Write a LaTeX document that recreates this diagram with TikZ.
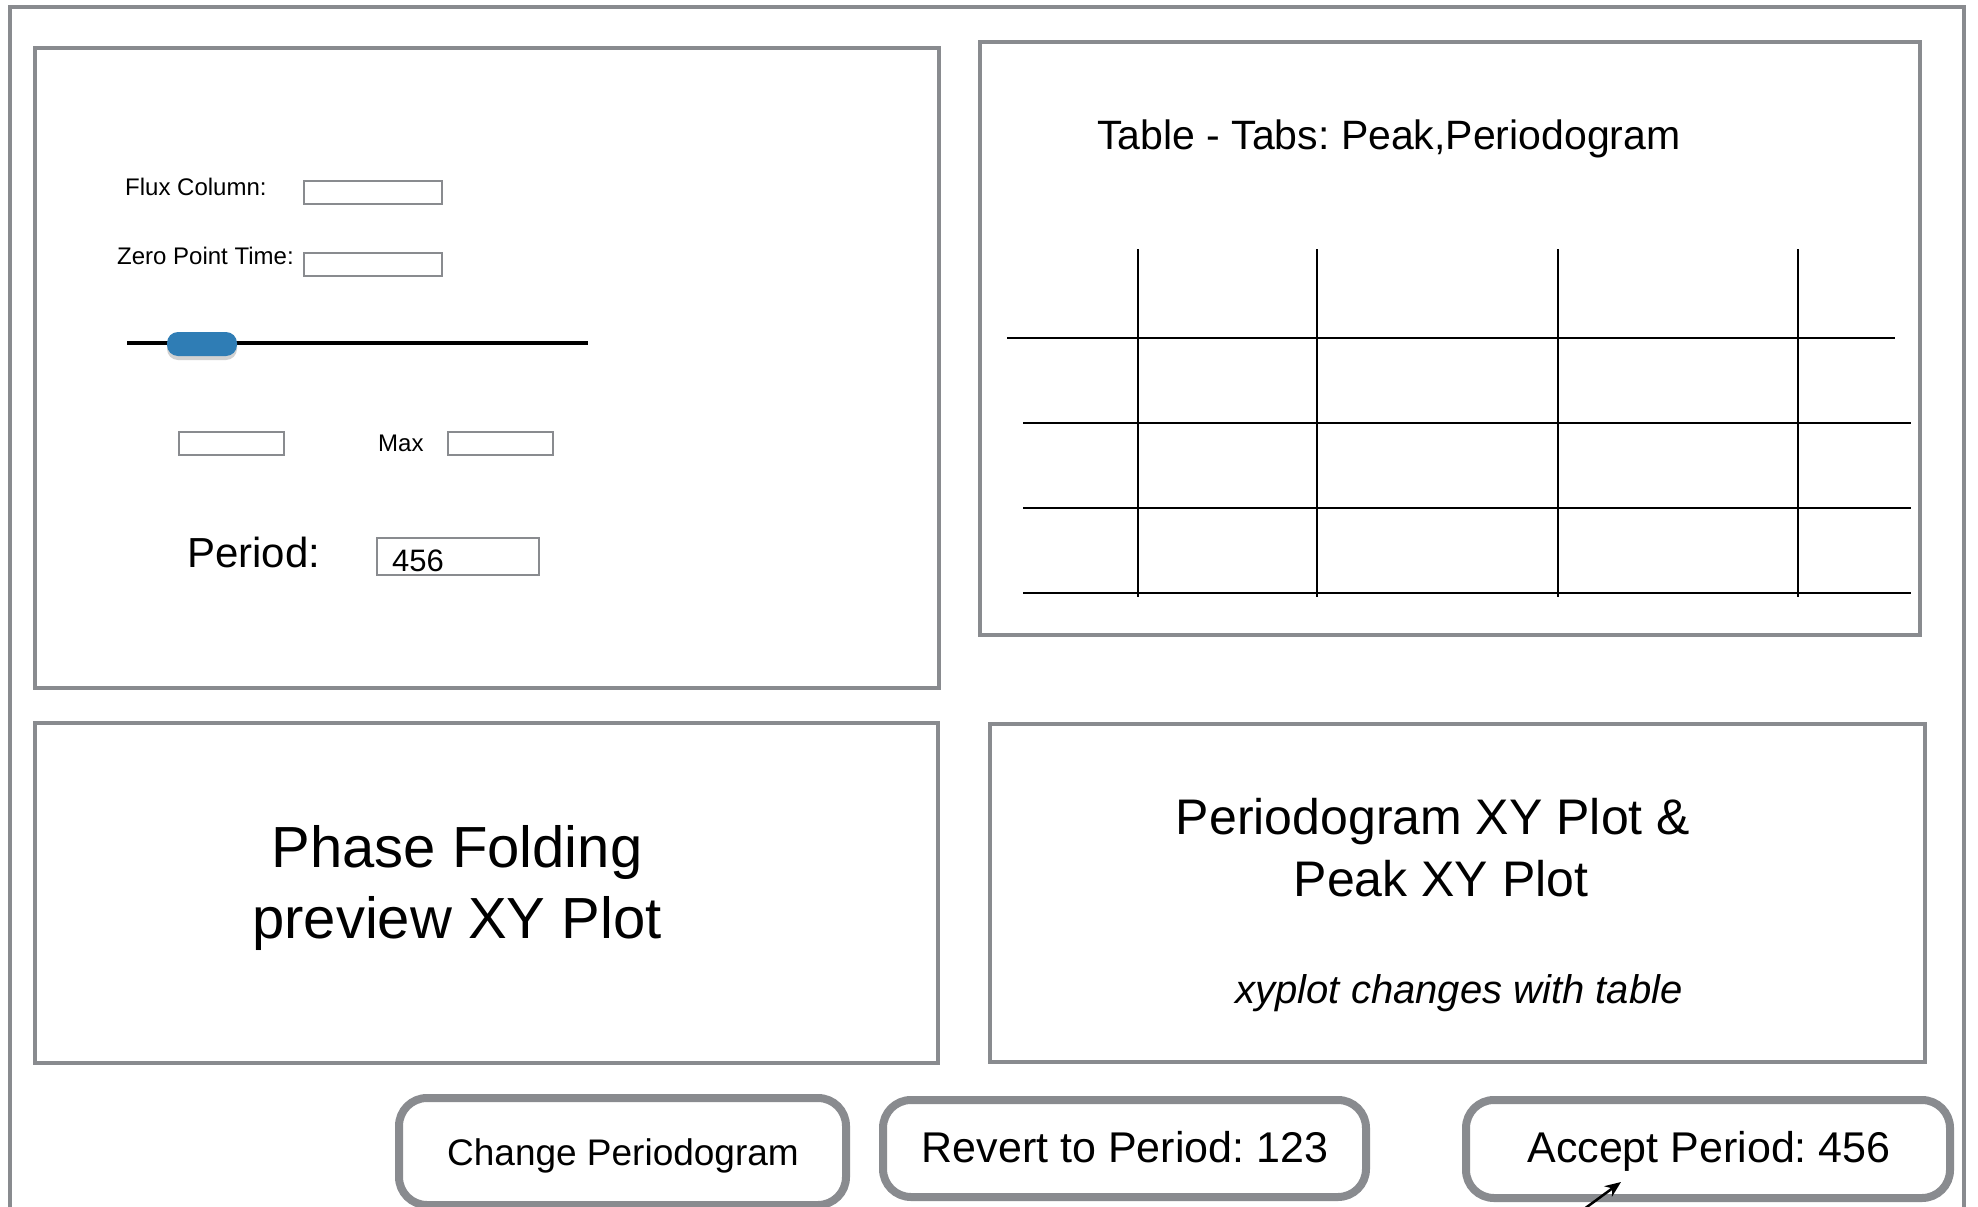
\documentclass[tikz,border=0pt]{standalone}
\usepackage{fontspec}
\setmainfont{Liberation Sans}
\usetikzlibrary{arrows.meta,shadows}
\definecolor{frame}{HTML}{898B8F}
\definecolor{knob}{HTML}{2F7DB5}
\newcommand{\fs}[1]{\fontsize{#1}{#1}\selectfont}
\frenchspacing
\begin{document}
\frenchspacing
\begin{tikzpicture}[x=1pt,y=-1pt,
  panel/.style={draw=frame, line width=4pt},
  field/.style={draw=frame, line width=2pt},
  btn/.style={draw=frame, line width=8pt, rounded corners=28pt},
  grid/.style={draw=black, line width=2pt},
  lbl/.style={inner sep=0pt, text=black}]
\useasboundingbox[fill=white] (0,0) rectangle (1978,1207);
% outer frame
\draw[panel] (10,1215) -- (10,7) -- (1964,7) -- (1964,1215);
% panels
\draw[panel] (35,48) rectangle (939,688);
\draw[panel] (980,42) rectangle (1920,635);
\draw[panel] (35,723) rectangle (938,1063);
\draw[panel] (990,724) rectangle (1925,1062);
% controls panel
\node[lbl, anchor=base west, font=\fs{24}] (flux) at (125,195) {Flux Column:};
\draw[field] (304,181) rectangle (442,204);
\node[lbl, anchor=base west, font=\fs{24}] (zero) at (117,264) {Zero Point Time:};
\draw[field] (304,253) rectangle (442,276);
\draw[line width=3.5pt] (127,343) -- (588,343);
\fill[knob, rounded corners=11pt, drop shadow={shadow xshift=0pt, shadow yshift=-4pt, opacity=0.35}] (167,332) rectangle (237,356);
\draw[field] (179,432) rectangle (284,455);
\node[lbl, anchor=base west, font=\fs{24}] (max) at (378,451) {Max};
\draw[field] (448,432) rectangle (553,455);
\node[lbl, anchor=base west, font=\fs{42}] (period) at (187,567) {Period:};
\draw[field] (377,538) rectangle (539,575);
\node[lbl, anchor=base west, font=\fs{31}] (pval) at (392,571) {456};
% table panel
\node[lbl, anchor=base west, font=\fs{41}] (title) at (1097,149) {Table - Tabs: Peak,Periodogram};
\draw[grid] (1007,338) -- (1895,338);
\draw[grid] (1023,423) -- (1911,423);
\draw[grid] (1023,508) -- (1911,508);
\draw[grid] (1023,593) -- (1911,593);
\foreach \x in {1138,1317,1558,1798}
  \draw[black, line width=1.6pt] (\x,249) -- (\x,597);
% plot panels
\node[lbl, anchor=base, font=\fs{58}] (pf1) at (457,867) {Phase Folding};
\node[lbl, anchor=base, font=\fs{58}] (pf2) at (457,938) {preview XY Plot};
\node[lbl, anchor=base, font=\fs{50}] (pg1) at (1433,834) {Periodogram XY Plot \&};
\node[lbl, anchor=base, font=\fs{50}] (pg2) at (1441,896) {Peak XY Plot};
\node[lbl, anchor=base, font=\fs{40}\itshape] (pg3) at (1459,1003) {xyplot changes with table};
% buttons
\draw[btn] (399,1098) rectangle (846,1205);
\node[lbl, anchor=base, font=\fs{37}] (bchange) at (623,1165) {Change Periodogram};
\draw[btn] (883,1100) rectangle (1366,1197);
\node[lbl, anchor=base, font=\fs{43}] (brevert) at (1125,1162) {Revert to Period: 123};
\draw[btn] (1466,1100) rectangle (1950,1198);
\node[lbl, anchor=base, font=\fs{43}] (baccept) at (1709,1162) {Accept Period: 456};
% small arrow
\coordinate (atail) at (1580,1212);
\coordinate (atip) at (1621,1182);
\draw[line width=2.5pt, -{Stealth[length=16pt,width=13pt]}] (atail) -- (atip);
\end{tikzpicture}
\end{document}
